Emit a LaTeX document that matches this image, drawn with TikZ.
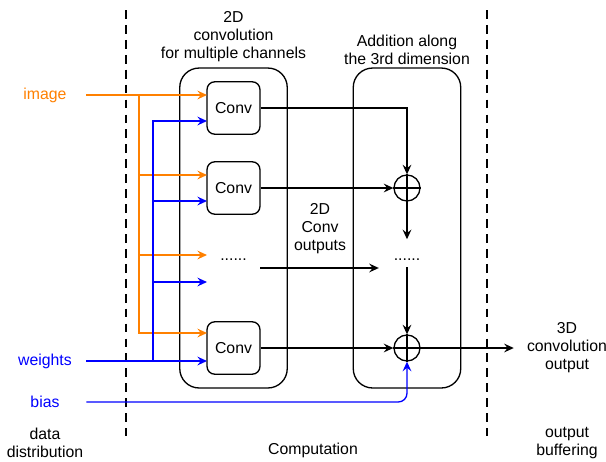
\documentclass[tikz,border=0pt]{standalone}
\usepackage{fontspec}
\setmainfont{Liberation Sans}
\usetikzlibrary{arrows.meta}
\definecolor{imgorange}{HTML}{FF8000}
\definecolor{wblue}{HTML}{0000FF}

\begin{document}
\begin{tikzpicture}[x=0.02cm, y=-0.02cm,
      every node/.style={font=\fontsize{9}{10.3}\selectfont, align=center},
      convbox/.style={rectangle, draw, rounded corners=4.5pt, line width=0.75pt,
        minimum width=1.06cm, minimum height=1.05cm},
      groupbox/.style={rectangle, draw, rounded corners=11pt, line width=0.75pt,
        minimum width=2.15cm, minimum height=6.4cm},
      addcircle/.style={circle, draw, line width=0.75pt, minimum size=0.52cm, inner sep=0pt},
      inlabel/.style={minimum width=1.64cm, inner sep=0pt},
      arr/.style={-{Stealth[length=5.5pt, width=5pt, inset=2pt]}, line width=0.75pt},
      sepline/.style={line width=1.6pt, dash pattern=on 5pt off 3.5pt}]

    \useasboundingbox (0,0) rectangle (606,461);

    \draw[sepline] (126,10) -- (126,436);
    \draw[sepline] (487,10) -- (487,436);

    \node[groupbox] (grpconv) at (233.5,228) {};
    \node[groupbox] (grpadd)  at (407,228) {};

    \node (convtitle) at (233.5,37) {2D\\convolution\\for multiple channels};
    \node (addtitle)  at (407,50) {Addition along\\the 3rd dimension};
    \node (convout)   at (320,229) {2D\\Conv\\outputs};

    \node[convbox] (conv1) at (233.5,108) {Conv};
    \node[convbox] (conv2) at (233.5,188) {Conv};
    \node[minimum width=1.06cm] (cdots) at (233.5,260) {......};
    \node[convbox] (conv3) at (233.5,348) {Conv};

    \node[addcircle] (add1) at (407,188) {};
    \node (adddots) at (407,260) {......};
    \node[addcircle] (add2) at (407,348) {};

    \node[inlabel, text=imgorange] (imglab)  at (45,95)  {image};
    \node[inlabel, text=wblue]     (wlab)    at (45,361) {weights};
    \node[inlabel, text=wblue]     (biaslab) at (45,402) {bias};

    \node (outlab)  at (567,348) {3D\\convolution\\output};
    \node (datalab) at (45,443)  {data\\distribution};
    \node (complab) at (313,450) {Computation};
    \node (buflab)  at (567,443) {output\\buffering};

    \coordinate (img1) at (207,95);
    \coordinate (img2) at (207,175);
    \coordinate (img3) at (207,255);
    \coordinate (img4) at (207,333);
    \coordinate (wt1) at (207,121);
    \coordinate (wt2) at (207,201);
    \coordinate (wt3) at (207,282);
    \coordinate (wt4) at (207,361);
    \coordinate (obus) at (139,95);
    \coordinate (wbus) at (153,361);

    \draw[arr, imgorange] (imglab.east) -- (img1);
    \draw[arr, imgorange] (obus) |- (img4);
    \draw[arr, imgorange] (obus |- img2) -- (img2);
    \draw[arr, imgorange] (obus |- img3) -- (img3);

    \draw[arr, wblue] (wlab.east) -- (wt4);
    \draw[arr, wblue] (wbus) |- (wt1);
    \draw[arr, wblue] (wbus |- wt2) -- (wt2);
    \draw[arr, wblue] (wbus |- wt3) -- (wt3);

    \draw[arr, wblue, rounded corners=5pt] (biaslab.east) -| (add2.south);

    \draw[line width=0.75pt] (add1.north) -- (add1.south) (add1.west) -- (add1.east);
    \draw[line width=0.75pt] (add2.north) -- (add2.south) (add2.west) -- (add2.east);

    \draw[arr] (conv1.east) -| (add1.north);
    \draw[arr] (conv2.east) -- (add1.west);
    \draw[arr, shorten >=7.8pt] (add1.south) -- (adddots.north);
    \draw[arr, shorten >=5pt] ([yshift=-0.16cm]cdots.east) -- ([yshift=-0.16cm]adddots.west);
    \draw[arr] (adddots.south) -- (add2.north);
    \draw[arr] (conv3.east) -- (add2.west);
    \draw[arr, shorten >=4pt] (add2.east) -- (outlab.west);

  \end{tikzpicture}
\end{document}
